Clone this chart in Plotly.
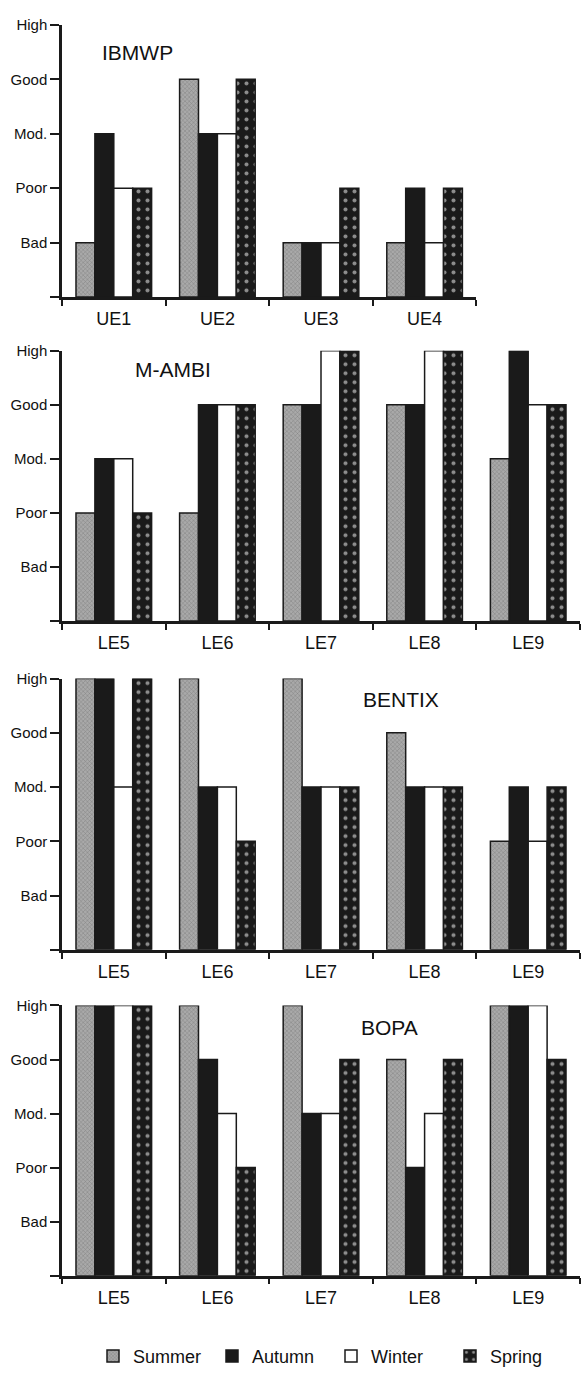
import plotly.graph_objects as go

# Quality class scale (0 = baseline)
LEVEL_VALUES = [0, 1, 2, 3, 4, 5]
LEVEL_LABELS = ["", "Bad", "Poor", "Mod.", "Good", "High"]

SEASONS = ["Summer", "Autumn", "Winter", "Spring"]
UE_SITES = ["UE1", "UE2", "UE3", "UE4"]
LE_SITES = ["LE5", "LE6", "LE7", "LE8", "LE9"]

# IBMWP (upper estuary)
ibmwp_summer = [1, 4, 1, 1]
ibmwp_autumn = [3, 3, 1, 2]
ibmwp_winter = [2, 3, 1, 1]
ibmwp_spring = [2, 4, 2, 2]

# M-AMBI (lower estuary)
mambi_summer = [2, 2, 4, 4, 3]
mambi_autumn = [3, 4, 4, 4, 5]
mambi_winter = [3, 4, 5, 5, 4]
mambi_spring = [2, 4, 5, 5, 4]

# BENTIX
bentix_summer = [5, 5, 5, 4, 2]
bentix_autumn = [5, 3, 3, 3, 3]
bentix_winter = [3, 3, 3, 3, 2]
bentix_spring = [5, 2, 3, 3, 3]

# BOPA
bopa_summer = [5, 5, 5, 4, 5]
bopa_autumn = [5, 4, 3, 2, 5]
bopa_winter = [5, 3, 3, 3, 5]
bopa_spring = [5, 2, 4, 4, 4]

PANELS = [
    ("IBMWP", UE_SITES, [ibmwp_summer, ibmwp_autumn, ibmwp_winter, ibmwp_spring]),
    ("M-AMBI", LE_SITES, [mambi_summer, mambi_autumn, mambi_winter, mambi_spring]),
    ("BENTIX", LE_SITES, [bentix_summer, bentix_autumn, bentix_winter, bentix_spring]),
    ("BOPA", LE_SITES, [bopa_summer, bopa_autumn, bopa_winter, bopa_spring]),
]

W, H = 582, 1384
FONT = "Liberation Sans, Arial, sans-serif"
INK = "#1a1a1a"

# vertical placement of each panel in pixels: (baseline, top)
PANEL_PX = [(290, 16), (616, 344), (947, 674), (1275, 1003)]
X_LEFT_PX = 62
GROUP_PX = 103.6
# title annotation centres in pixels
TITLE_PX = [(137, 44), (173, 363), (401, 695), (389, 1025)]

SEASON_STYLE = {
    "Summer": dict(color="#a9a9a9",
                   pattern=dict(shape="x", size=3, solidity=0.3, fgcolor="#555555", fillmode="overlay")),
    "Autumn": dict(color=INK),
    "Winter": dict(color="white"),
    "Spring": dict(color=INK,
                   pattern=dict(shape=".", size=9, solidity=0.16, fgcolor="white", fillmode="overlay")),
}

fig = go.Figure()

for i, (title, sites, series) in enumerate(PANELS):
    ax = "" if i == 0 else str(i + 1)
    for season, values in zip(SEASONS, series):
        style = SEASON_STYLE[season]
        marker = dict(color=style["color"], line=dict(color=INK, width=1.5))
        if "pattern" in style:
            marker["pattern"] = style["pattern"]
        fig.add_trace(go.Bar(
            x=sites, y=values, name=season,
            marker=marker,
            xaxis="x" + ax, yaxis="y" + ax,
            legendgroup=season, showlegend=(i == 0),
            hoverinfo="x+y+name",
        ))

    base_px, top_px = PANEL_PX[i]
    x1_px = X_LEFT_PX + GROUP_PX * len(sites)
    fig.layout["xaxis" + ax] = dict(
        domain=[X_LEFT_PX / W, x1_px / W],
        anchor="y" + ax,
        type="category",
        showline=True, linecolor=INK, linewidth=2.5,
        ticks="outside", tickson="boundaries", ticklen=6, tickwidth=2, tickcolor=INK,
        ticklabelstandoff=4,
        showgrid=False, zeroline=False,
        tickfont=dict(family=FONT, size=18, color="#111"),
        fixedrange=True,
    )
    fig.layout["yaxis" + ax] = dict(
        domain=[1 - base_px / H, 1 - top_px / H],
        anchor="x" + ax,
        range=[0, 5],
        tickvals=LEVEL_VALUES, ticktext=LEVEL_LABELS,
        showline=True, linecolor=INK, linewidth=2.5,
        ticks="outside", ticklen=9, tickwidth=2, tickcolor=INK,
        showgrid=False, zeroline=False,
        tickfont=dict(family=FONT, size=15, color="#111"),
        fixedrange=True,
    )
    tx, ty = TITLE_PX[i]
    fig.add_annotation(
        text=title, x=tx / W, y=1 - ty / H, xref="paper", yref="paper",
        showarrow=False, xanchor="center", yanchor="middle",
        font=dict(family=FONT, size=21, color="#111"),
    )

fig.update_layout(
    width=W, height=H,
    margin=dict(l=0, r=0, t=0, b=0),
    paper_bgcolor="white", plot_bgcolor="white",
    barmode="group", bargap=0.27, bargroupgap=0,
    font=dict(family=FONT, color="#111"),
    legend=dict(
        orientation="h", x=93 / W, xanchor="left", y=1 - 1356 / H, yanchor="middle",
        entrywidth=74, entrywidthmode="pixels",
        font=dict(family=FONT, size=18, color="#111"),
        traceorder="normal",
    ),
    showlegend=True,
)

fig.write_html("out.html")
